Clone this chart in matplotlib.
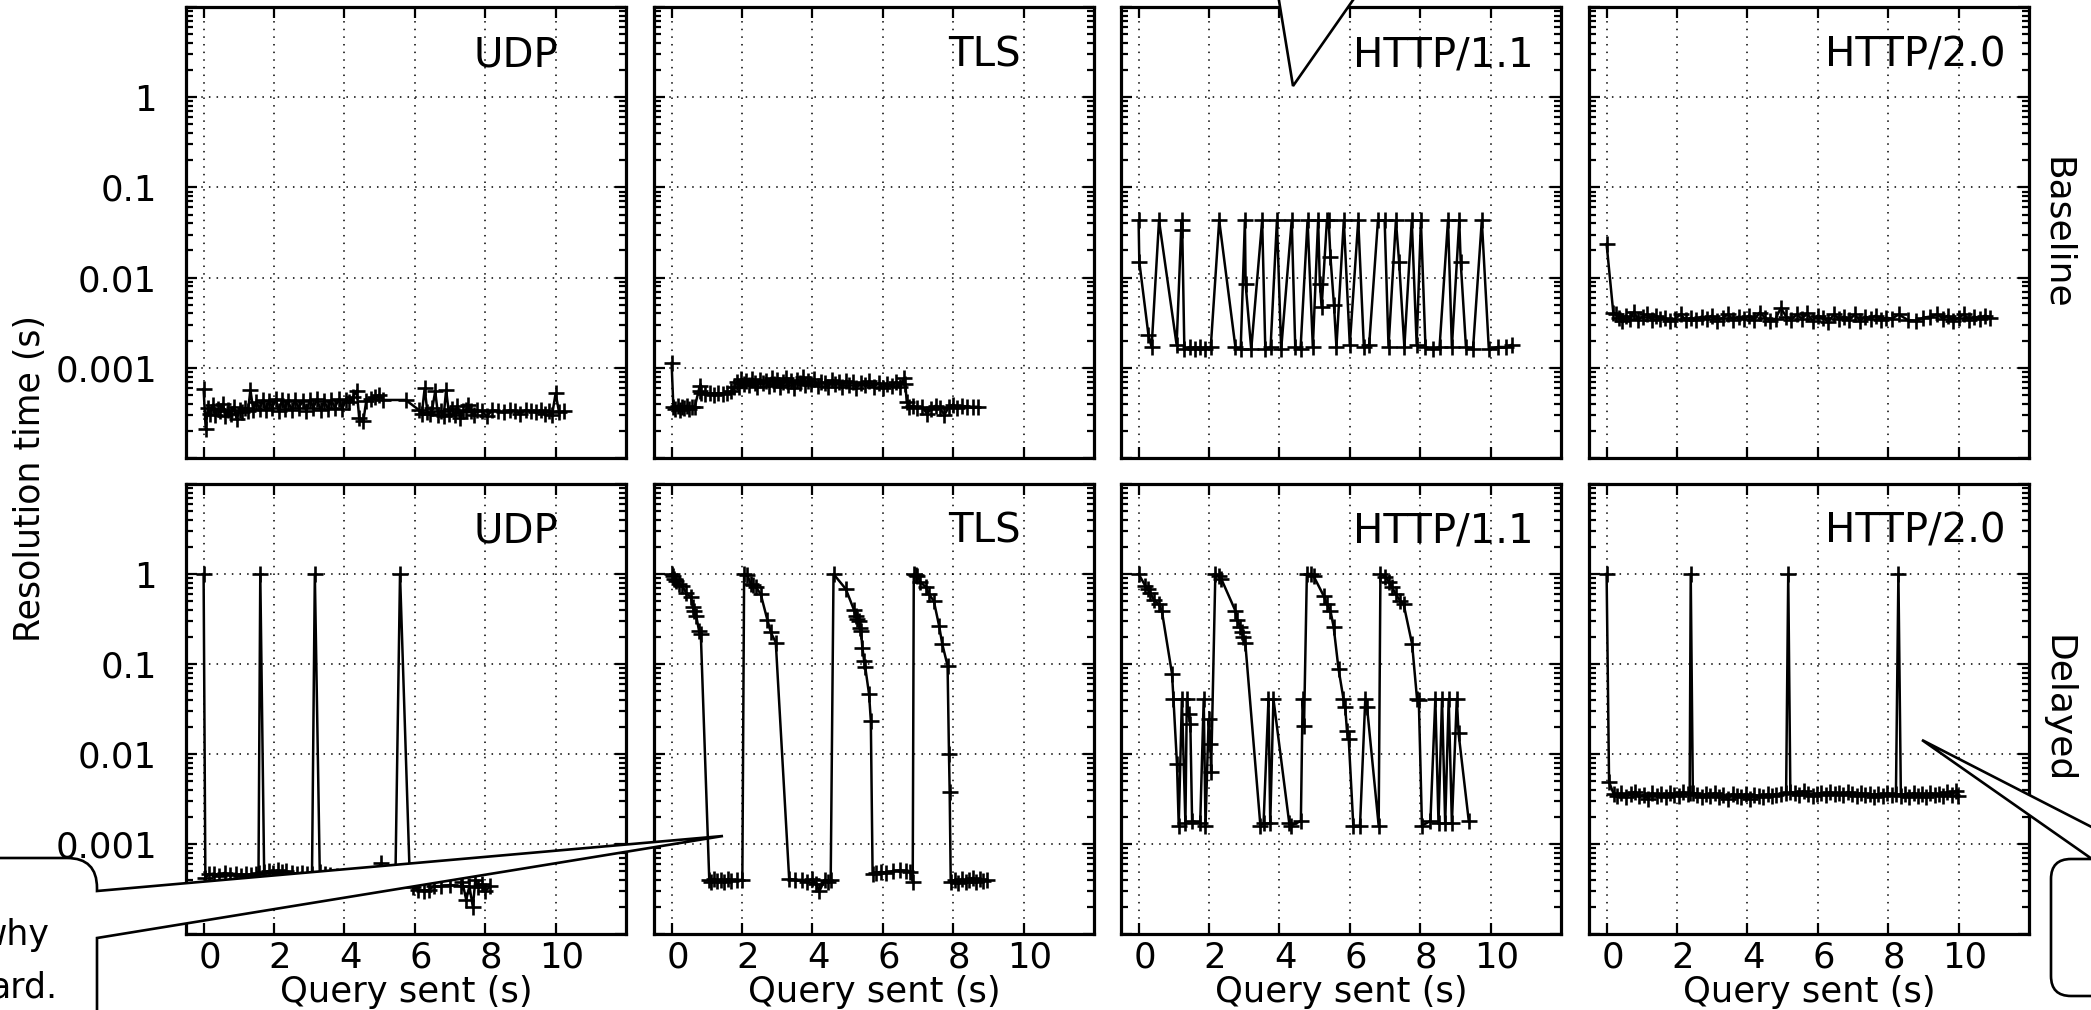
import matplotlib
matplotlib.use("Agg")
import matplotlib.pyplot as plt
import matplotlib.transforms as mtransforms
from matplotlib.path import Path
from matplotlib.patches import PathPatch
from matplotlib.ticker import LogLocator, NullFormatter

# (query sent [s], resolution time [ms]) for every run
udp_baseline = [
    (0.00, 0.58), (0.06, 0.21), (0.12, 0.36), (0.19, 0.31), (0.26, 0.39), (0.33, 0.30), (0.40, 0.35), (0.47, 0.33),
    (0.55, 0.40), (0.62, 0.29), (0.70, 0.34), (0.78, 0.31), (0.86, 0.37), (0.94, 0.27), (1.02, 0.34), (1.10, 0.32),
    (1.18, 0.36), (1.26, 0.33), (1.33, 0.57), (1.41, 0.34), (1.50, 0.42), (1.59, 0.35), (1.68, 0.44), (1.77, 0.34),
    (1.86, 0.43), (1.95, 0.36), (2.05, 0.45), (2.14, 0.33), (2.23, 0.44), (2.31, 0.35), (2.40, 0.43), (2.50, 0.34),
    (2.60, 0.44), (2.70, 0.36), (2.82, 0.43), (2.92, 0.33), (3.02, 0.44), (3.12, 0.36), (3.22, 0.45), (3.33, 0.34),
    (3.43, 0.43), (3.53, 0.35), (3.63, 0.44), (3.73, 0.36), (3.84, 0.45), (3.94, 0.35), (4.04, 0.44), (4.14, 0.42),
    (4.24, 0.47), (4.35, 0.56), (4.42, 0.28), (4.54, 0.26), (4.62, 0.43), (4.75, 0.45), (4.87, 0.47), (4.98, 0.50),
    (5.10, 0.44), (5.74, 0.44), (6.12, 0.34), (6.20, 0.31), (6.28, 0.59), (6.36, 0.32), (6.44, 0.31), (6.50, 0.36),
    (6.58, 0.55), (6.66, 0.30), (6.74, 0.33), (6.82, 0.29), (6.89, 0.57), (6.97, 0.31), (7.05, 0.35), (7.13, 0.30),
    (7.21, 0.38), (7.29, 0.28), (7.37, 0.33), (7.45, 0.34), (7.52, 0.39), (7.60, 0.33), (7.68, 0.30), (7.76, 0.34),
    (7.90, 0.33), (8.05, 0.29), (8.20, 0.34), (8.35, 0.33), (8.54, 0.32), (8.70, 0.34), (8.85, 0.33), (9.00, 0.31),
    (9.15, 0.34), (9.30, 0.33), (9.45, 0.32), (9.58, 0.34), (9.70, 0.31), (9.80, 0.33), (9.90, 0.30), (10.00, 0.52),
    (10.10, 0.32), (10.25, 0.33),
]
tls_baseline = [
    (0.00, 1.13), (0.05, 0.37), (0.11, 0.35), (0.17, 0.38), (0.23, 0.34), (0.29, 0.37), (0.36, 0.36), (0.43, 0.38),
    (0.50, 0.35), (0.58, 0.37), (0.66, 0.37), (0.80, 0.63), (0.82, 0.56), (0.84, 0.52), (0.95, 0.51), (1.08, 0.52),
    (1.20, 0.50), (1.32, 0.52), (1.45, 0.51), (1.58, 0.53), (1.70, 0.55), (1.78, 0.61), (1.86, 0.70), (1.92, 0.62),
    (1.98, 0.75), (2.05, 0.66), (2.12, 0.72), (2.20, 0.64), (2.28, 0.76), (2.36, 0.68), (2.44, 0.62), (2.52, 0.74),
    (2.60, 0.67), (2.68, 0.71), (2.76, 0.63), (2.84, 0.78), (2.92, 0.66), (3.00, 0.73), (3.08, 0.61), (3.16, 0.70),
    (3.24, 0.77), (3.32, 0.65), (3.40, 0.72), (3.48, 0.60), (3.56, 0.74), (3.64, 0.68), (3.72, 0.79), (3.80, 0.64),
    (3.88, 0.71), (3.96, 0.66), (4.05, 0.75), (4.15, 0.63), (4.25, 0.70), (4.35, 0.67), (4.45, 0.61), (4.55, 0.73),
    (4.65, 0.66), (4.75, 0.69), (4.85, 0.62), (4.95, 0.72), (5.05, 0.65), (5.15, 0.70), (5.25, 0.60), (5.38, 0.68),
    (5.50, 0.64), (5.62, 0.71), (5.75, 0.62), (5.88, 0.67), (6.00, 0.60), (6.12, 0.66), (6.25, 0.63), (6.38, 0.69),
    (6.50, 0.61), (6.60, 0.77), (6.64, 0.66), (6.68, 0.42), (6.75, 0.37), (6.85, 0.38), (6.98, 0.36), (7.12, 0.37),
    (7.25, 0.31), (7.38, 0.35), (7.50, 0.38), (7.62, 0.36), (7.75, 0.30), (7.88, 0.37), (8.00, 0.39), (8.12, 0.36),
    (8.25, 0.38), (8.40, 0.37), (8.55, 0.37), (8.70, 0.37),
]
http1_baseline = [
    (0.00, 43), (0.02, 15), (0.28, 2.3), (0.37, 1.7), (0.58, 43), (1.08, 1.8), (1.22, 43), (1.24, 34), (1.30, 1.6),
    (1.45, 1.7), (1.60, 1.6), (1.75, 1.7), (1.90, 1.6), (2.05, 1.7), (2.29, 43), (2.75, 1.7), (2.90, 1.6), (3.02, 43),
    (3.04, 8.5), (3.20, 1.6), (3.51, 43), (3.60, 1.6), (3.75, 1.7), (3.93, 43), (4.05, 1.6), (4.35, 43), (4.45, 1.7),
    (4.60, 1.6), (4.80, 43), (4.95, 1.7), (5.10, 43), (5.15, 8.5), (5.20, 4.7), (5.35, 43), (5.40, 43), (5.45, 17),
    (5.55, 5.0), (5.62, 1.7), (5.83, 43), (6.00, 1.8), (6.24, 43), (6.40, 1.7), (6.55, 1.8), (6.80, 43), (6.99, 43),
    (7.10, 1.7), (7.31, 43), (7.40, 15), (7.55, 1.7), (7.76, 43), (7.90, 1.8), (8.02, 43), (8.15, 1.7), (8.35, 1.6),
    (8.55, 1.7), (8.79, 43), (8.90, 1.7), (9.11, 43), (9.15, 15), (9.30, 1.7), (9.50, 1.6), (9.75, 43), (9.95, 1.6),
    (10.20, 1.7), (10.45, 1.7), (10.60, 1.8),
]
http2_baseline = [
    (0.00, 23.5), (0.19, 4.1), (0.28, 3.9), (0.36, 3.6), (0.45, 3.3), (0.55, 3.8), (0.66, 3.5), (0.78, 4.2),
    (0.90, 3.4), (1.02, 3.7), (1.15, 3.9), (1.28, 3.4), (1.40, 3.8), (1.52, 3.5), (1.65, 3.6), (1.80, 3.3),
    (1.95, 3.5), (2.10, 3.9), (2.25, 3.4), (2.40, 3.6), (2.55, 3.4), (2.70, 3.7), (2.85, 3.5), (3.00, 3.8),
    (3.15, 3.3), (3.30, 3.6), (3.45, 3.9), (3.60, 3.4), (3.75, 3.7), (3.90, 3.5), (4.05, 3.8), (4.20, 3.4),
    (4.35, 4.1), (4.50, 3.6), (4.65, 3.3), (4.80, 3.5), (4.95, 4.6), (5.10, 3.7), (5.25, 3.4), (5.40, 3.9),
    (5.55, 3.5), (5.70, 4.0), (5.85, 3.3), (6.00, 3.8), (6.15, 3.6), (6.30, 3.2), (6.45, 3.9), (6.60, 3.5),
    (6.75, 3.7), (6.90, 3.4), (7.05, 3.9), (7.20, 3.3), (7.35, 3.7), (7.50, 3.5), (7.65, 3.8), (7.80, 3.4),
    (7.95, 3.6), (8.10, 3.5), (8.30, 3.9), (8.55, 3.4), (8.80, 3.3), (9.00, 3.6), (9.20, 3.7), (9.40, 3.9),
    (9.55, 3.5), (9.70, 3.8), (9.85, 3.3), (10.00, 3.6), (10.15, 3.9), (10.30, 3.4), (10.45, 3.7), (10.60, 3.5),
    (10.75, 3.8), (10.90, 3.6),
]
udp_delayed = [
    (0.00, 1000), (0.05, 0.42), (0.15, 0.46), (0.30, 0.47), (0.45, 0.44), (0.60, 0.48), (0.75, 0.45), (0.92, 0.47),
    (1.05, 0.44), (1.20, 0.46), (1.35, 0.45), (1.50, 0.47), (1.56, 0.48), (1.61, 1000), (1.72, 0.49), (1.85, 0.50),
    (1.98, 0.48), (2.10, 0.51), (2.22, 0.49), (2.35, 0.50), (2.50, 0.48), (2.65, 0.47), (2.80, 0.48), (2.95, 0.46),
    (3.08, 0.47), (3.16, 1000), (3.30, 0.49), (3.45, 0.46), (3.60, 0.45), (3.80, 0.44), (4.00, 0.43), (4.25, 0.42),
    (4.50, 0.41), (4.75, 0.40), (5.04, 0.61), (5.20, 0.42), (5.45, 0.44), (5.58, 1000), (5.85, 0.52), (5.95, 0.33),
    (6.10, 0.31), (6.25, 0.30), (6.40, 0.31), (6.55, 0.34), (6.75, 0.34), (7.00, 0.35), (7.30, 0.34), (7.35, 0.38),
    (7.46, 0.24), (7.55, 0.34), (7.65, 0.20), (7.72, 0.40), (7.80, 0.33), (7.90, 0.36), (8.00, 0.30), (8.15, 0.34),
]
tls_delayed = [
    (0.00, 1000), (0.03, 960), (0.08, 870), (0.12, 830), (0.22, 770), (0.30, 740), (0.41, 620), (0.55, 550),
    (0.60, 430), (0.64, 390), (0.70, 340), (0.78, 233), (0.83, 215), (1.07, 0.40), (1.12, 0.38), (1.20, 0.41),
    (1.30, 0.39), (1.40, 0.40), (1.50, 0.38), (1.60, 0.41), (1.70, 0.39), (1.85, 0.40), (2.01, 0.40), (2.06, 1000),
    (2.15, 980), (2.25, 770), (2.32, 760), (2.39, 720), (2.53, 600), (2.72, 310), (2.82, 224), (2.96, 173),
    (3.34, 0.41), (3.50, 0.40), (3.70, 0.40), (3.85, 0.38), (4.00, 0.41), (4.10, 0.36), (4.20, 0.30), (4.35, 0.40),
    (4.45, 0.38), (4.52, 0.40), (4.60, 1000), (4.95, 680), (5.18, 400), (5.23, 340), (5.28, 320), (5.33, 300),
    (5.36, 250), (5.38, 233), (5.42, 152), (5.47, 108), (5.50, 93), (5.61, 46), (5.66, 23.4), (5.71, 0.47),
    (5.80, 0.48), (5.95, 0.49), (6.10, 0.48), (6.30, 0.50), (6.50, 0.51), (6.65, 0.50), (6.78, 0.49), (6.85, 0.38),
    (6.88, 1000), (6.93, 970), (6.98, 960), (7.07, 810), (7.22, 720), (7.31, 600), (7.45, 500), (7.60, 265),
    (7.69, 166), (7.84, 96), (7.88, 10), (7.90, 3.8), (7.93, 0.38), (8.05, 0.40), (8.15, 0.37), (8.25, 0.41),
    (8.35, 0.38), (8.45, 0.40), (8.55, 0.42), (8.65, 0.38), (8.75, 0.41), (8.85, 0.39), (8.96, 0.40),
]
http1_delayed = [
    (0.00, 1000), (0.19, 740), (0.26, 680), (0.33, 620), (0.43, 520), (0.57, 460), (0.66, 390), (0.95, 77.5),
    (0.99, 41), (1.09, 7.8), (1.14, 1.6), (1.23, 41), (1.33, 1.7), (1.37, 41), (1.42, 28), (1.47, 21.5),
    (1.52, 1.8), (1.75, 1.7), (1.85, 41), (1.90, 1.6), (1.99, 24.5), (2.04, 13), (2.06, 6.3), (2.18, 1000),
    (2.28, 950), (2.35, 880), (2.75, 390), (2.79, 310), (2.89, 260), (2.94, 224), (2.98, 200), (3.03, 173),
    (3.46, 1.6), (3.55, 1.7), (3.69, 41), (3.74, 1.7), (3.83, 41), (4.28, 1.7), (4.33, 1.6), (4.61, 1.8),
    (4.66, 41), (4.70, 20.7), (4.78, 1000), (4.90, 1000), (4.97, 950), (5.26, 570), (5.35, 460), (5.45, 390),
    (5.54, 260), (5.68, 88), (5.82, 41), (5.87, 33), (5.92, 18), (5.97, 14.5), (6.10, 1.6), (6.29, 1.6),
    (6.44, 41), (6.49, 33), (6.82, 1.6), (6.87, 1000), (7.01, 930), (7.11, 820), (7.20, 720), (7.30, 600),
    (7.44, 500), (7.53, 460), (7.77, 166), (7.91, 41), (7.96, 40), (8.05, 1.6), (8.29, 1.8), (8.43, 41),
    (8.52, 1.7), (8.62, 41), (8.71, 1.7), (8.81, 41), (8.90, 1.7), (9.04, 41), (9.09, 17), (9.38, 1.8),
]
http2_delayed = [
    (0.00, 1000), (0.07, 4.9), (0.20, 3.6), (0.30, 3.4), (0.42, 3.7), (0.55, 3.3), (0.68, 3.6), (0.80, 3.8),
    (0.92, 3.4), (1.05, 3.5), (1.18, 3.2), (1.30, 3.7), (1.42, 3.4), (1.55, 3.6), (1.68, 3.3), (1.80, 3.7),
    (1.92, 3.5), (2.05, 3.4), (2.18, 3.8), (2.30, 3.6), (2.36, 3.7), (2.39, 1000), (2.45, 3.7), (2.58, 3.5),
    (2.70, 3.3), (2.82, 3.6), (2.95, 3.4), (3.08, 3.7), (3.20, 3.3), (3.32, 3.5), (3.45, 3.2), (3.58, 3.6),
    (3.70, 3.4), (3.82, 3.3), (3.95, 3.6), (4.08, 3.2), (4.20, 3.5), (4.32, 3.4), (4.45, 3.3), (4.58, 3.6),
    (4.70, 3.4), (4.82, 3.5), (4.95, 3.6), (5.10, 3.7), (5.16, 1000), (5.22, 3.8), (5.35, 3.7), (5.48, 3.5),
    (5.60, 3.9), (5.72, 3.6), (5.85, 3.4), (5.98, 3.6), (6.10, 3.7), (6.22, 3.5), (6.35, 3.8), (6.48, 3.6),
    (6.60, 3.7), (6.72, 3.5), (6.85, 3.8), (6.98, 3.6), (7.10, 3.4), (7.22, 3.7), (7.35, 3.5), (7.48, 3.6),
    (7.60, 3.3), (7.72, 3.6), (7.85, 3.4), (7.98, 3.7), (8.10, 3.5), (8.22, 3.6), (8.29, 1000), (8.36, 3.4),
    (8.48, 3.6), (8.60, 3.3), (8.72, 3.7), (8.84, 3.4), (8.96, 3.6), (9.08, 3.3), (9.20, 3.7), (9.32, 3.5),
    (9.44, 3.6), (9.56, 3.4), (9.68, 3.8), (9.80, 3.5), (9.92, 3.9), (9.98, 3.4),
]

protocols = ["UDP", "TLS", "HTTP/1.1", "HTTP/2.0"]
scenarios = ["Baseline", "Delayed"]
runs = [
    [udp_baseline, tls_baseline, http1_baseline, http2_baseline],
    [udp_delayed, tls_delayed, http1_delayed, http2_delayed],
]
y_ticks = [1e-4, 1e-3, 1e-2, 1e-1, 1, 10]
y_tick_labels = ["", "0.001", "0.01", "0.1", "1", ""]
x_ticks = [0, 2, 4, 6, 8, 10]

W, H = 2091, 1010
fig = plt.figure(figsize=(W / 100, H / 100), dpi=100, facecolor="white")

# panel geometry in pixels
col_left = [186, 654, 1121, 1589]
col_w = 440
row_top = [7, 484]
row_h = [451, 450]
title_x = [0.845, 0.833, 0.9386, 0.9455]
label_shift = mtransforms.ScaledTranslation(6 / 100, 0, fig.dpi_scale_trans)

for r, scen in enumerate(scenarios):
    for c, proto in enumerate(protocols):
        ax = fig.add_axes([col_left[c] / W, 1 - (row_top[r] + row_h[r]) / H, col_w / W, row_h[r] / H])
        t = [p[0] for p in runs[r][c]]
        rt = [p[1] / 1000 for p in runs[r][c]]
        ax.plot(t, rt, color="black", lw=1.8, marker="+", ms=12, mew=1.9)

        ax.set_yscale("log")
        ax.set_xlim(-0.5, 12)
        ax.set_ylim(1e-4, 10)
        ax.set_xticks(x_ticks)
        ax.set_yticks(y_ticks)
        ax.yaxis.set_minor_locator(LogLocator(base=10, subs=range(2, 10), numticks=20))
        ax.yaxis.set_minor_formatter(NullFormatter())
        ax.grid(True, which="major", color="black", lw=1.1, ls=(0, (1, 4)))
        ax.tick_params(which="both", direction="in", top=True, right=True, width=1.6)
        ax.tick_params(which="major", length=8)
        ax.tick_params(which="minor", length=5)
        ax.tick_params(axis="y", pad=21, labelsize=25.5)
        ax.tick_params(axis="x", pad=5, labelsize=25.5)
        for sp in ax.spines.values():
            sp.set_linewidth(2.3)

        if c == 0:
            ax.set_yticklabels(y_tick_labels)
        else:
            ax.set_yticklabels([])
        if r == 1:
            ax.set_xticklabels([str(v) for v in x_ticks])
            for lbl in ax.get_xticklabels():
                lbl.set_transform(lbl.get_transform() + label_shift)
            ax.set_xlabel("Query sent (s)", fontsize=25.5, labelpad=0)
        else:
            ax.set_xticklabels([])

        ax.text(title_x[c], 0.869, proto, transform=ax.transAxes, ha="right", va="baseline", fontsize=29)

fig.text(30 / W, 1 - 478 / H, "Resolution time (s)", rotation=90, ha="center", va="center", fontsize=25)
fig.text(2057 / W, 1 - 233 / H, "Baseline", rotation=270, ha="center", va="center", fontsize=26)
fig.text(2058 / W, 1 - 709 / H, "Delayed", rotation=270, ha="center", va="center", fontsize=26)

# speech bubbles laid over the plots, in pixel coordinates
ov = fig.add_axes([0, 0, 1, 1], zorder=10)
ov.set_xlim(0, W)
ov.set_ylim(H, 0)
ov.axis("off")
ov.patch.set_visible(False)

M, L, C3, CL = Path.MOVETO, Path.LINETO, Path.CURVE3, Path.CLOSEPOLY
bubbles = [
    # lower left, pointing at the TLS panel
    ([(-60, 858), (67, 858), (97, 858), (97, 888), (97, 891), (723, 836), (97, 938), (97, 1080), (-60, 1080), (-60, 858)],
     [M, L, C3, C3, L, L, L, L, L, CL]),
    # tail coming in from above
    ([(1274, -30), (1293, 86), (1374, -30), (1274, -30)], [M, L, L, CL]),
    # lower right, pointing into HTTP/2.0
    ([(2071, 859), (2092, 859), (1922, 740), (2154, 859), (2300, 859), (2300, 996), (2071, 996), (2051, 996),
      (2051, 976), (2051, 879), (2051, 859), (2071, 859), (2071, 859)],
     [M, L, L, L, L, L, L, C3, C3, L, C3, C3, CL]),
]
for verts, codes in bubbles:
    ov.add_patch(PathPatch(Path(verts, codes), facecolor="white", edgecolor="black", lw=1.9, joinstyle="miter"))

# the bubble's text runs past the left edge of the figure
ov.text(50, 945, "why", ha="right", va="baseline", fontsize=25)
ov.text(58, 998, "ard.", ha="right", va="baseline", fontsize=25)

fig.savefig("out.png", dpi=100, facecolor="white")
